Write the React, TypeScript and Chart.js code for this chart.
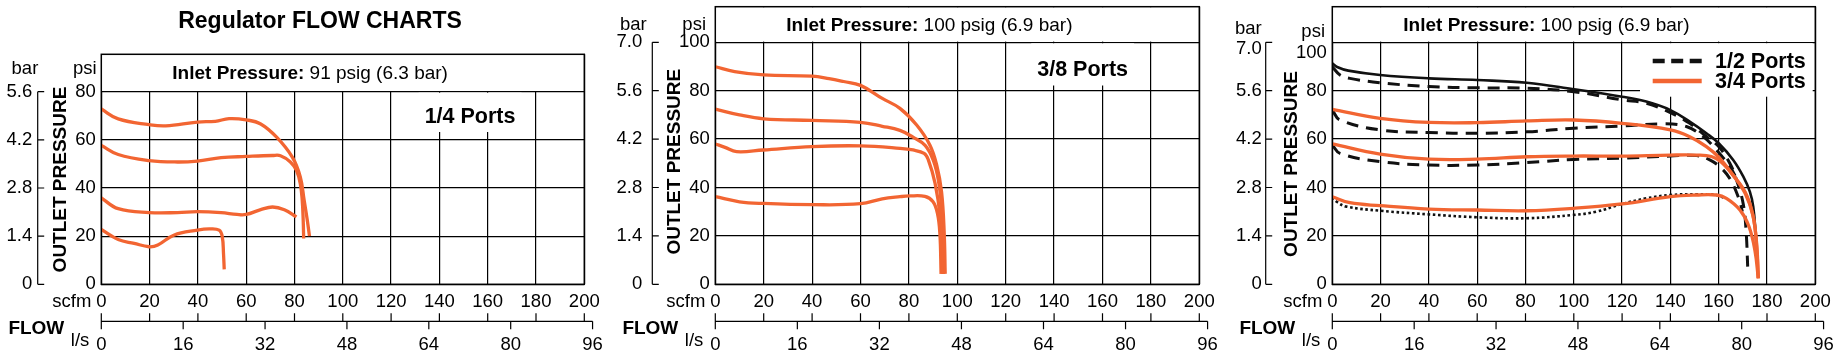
import React, { useEffect, useRef } from "react";
import { Chart, registerables } from "chart.js";

Chart.register(...registerables);

type Pt = [number, number];

// ---------- axis tick values ----------
const SCFM_TICKS = [0, 20, 40, 60, 80, 100, 120, 140, 160, 180, 200];
const LPS_TICKS = [0, 16, 32, 48, 64, 80, 96];
const PSI_TICKS_80 = [0, 20, 40, 60, 80];
const PSI_TICKS_100 = [0, 20, 40, 60, 80, 100];
const BAR_TICKS_56 = ["0", "1.4", "2.8", "4.2", "5.6"];
const BAR_TICKS_70 = ["0", "1.4", "2.8", "4.2", "5.6", "7.0"];
const LPS_TO_SCFM = 2.119;
const PSI_PER_BAR = 20 / 1.4;

// ---------- texts ----------
const TITLE = "Regulator FLOW CHARTS";
const INLET_91 = ["Inlet Pressure:", " 91 psig (6.3 bar)"];
const INLET_100 = ["Inlet Pressure:", " 100 psig (6.9 bar)"];
const PORT_14 = "1/4 Ports";
const PORT_38 = "3/8 Ports";
const LEGEND_LABELS = ["1/2 Ports", "3/4 Ports"];

// ---------- 1/4 ports (scfm, psi) ----------
const q14_a: Pt[] = [[0, 72.8], [7, 68.7], [19.8, 66.3], [26.7, 65.8], [39.8, 67.4], [47.2, 67.7], [52.9, 68.8], [60, 68.3], [66, 66.6], [72.6, 61.1], [79.1, 52.8], [82.4, 44.6], [84, 34.9], [85.3, 26.6], [86.2, 20]];
const q14_b: Pt[] = [[0, 57.7], [7, 53.9], [19.8, 51.4], [31.6, 50.8], [39.8, 51.2], [49.6, 52.6], [60, 53.1], [70.9, 53.5], [74.2, 53.4], [78.3, 50.8], [80.8, 47.3], [82.4, 41.8], [83.2, 34.9], [83.6, 26.6], [83.8, 19]];
const q14_c: Pt[] = [[0, 35.9], [7, 31.4], [19.8, 29.8], [31.6, 29.8], [39.8, 30.2], [49.6, 29.8], [56.2, 29], [60, 29], [66, 31], [70.9, 32.1], [75.8, 31], [80.8, 28]];
const q14_d: Pt[] = [[0, 22.8], [7, 18.6], [13.6, 17], [19.8, 15.6], [23.4, 16.3], [30, 20.4], [39.8, 22.5], [44.7, 23], [48.8, 22.5], [50.1, 19.7], [50.6, 12.8], [50.9, 6.2]];

// ---------- 3/8 ports ----------
const e38_a: Pt[] = [[0, 89.9], [8, 87.9], [20, 86.5], [40, 86], [47, 85], [53, 83.8], [60, 82.2], [69, 76.8], [76.3, 72.7], [83.2, 65.8], [88.7, 57.5], [91.5, 49.2], [93.5, 38.2], [94.6, 21], [95, 4.3]];
const e38_b: Pt[] = [[0, 72.4], [10, 70], [20, 68.4], [40, 67.7], [60, 66.9], [69, 65.3], [76.3, 63.6], [81.7, 60.8], [86.7, 57.4], [90.1, 51.2], [92.2, 42.9], [93.5, 31.9], [94, 18], [94.2, 4.3]];
const e38_c: Pt[] = [[0, 58], [4, 56.6], [8.8, 54.8], [19.8, 55.5], [40, 56.9], [60, 57.2], [76.3, 56.2], [81.7, 55.5], [86.3, 54.1], [88, 51.5], [90.8, 41.8], [92.9, 28], [93.7, 12], [94, 4.3]];
const e38_d: Pt[] = [[0, 36.2], [10, 34.1], [20, 33.4], [40, 32.9], [60, 33.3], [69, 35.3], [76.3, 36.2], [80.2, 36.5], [86.6, 36.3], [89.9, 34.2], [91.8, 29.3], [92.8, 21], [93.3, 4.3]];

// ---------- 1/2 and 3/4 ports ----------
const h34_a: Pt[] = [[0, 72.3], [19.8, 68.6], [40, 66.9], [60, 66.8], [80.5, 67.5], [100, 67.9], [120, 66.5], [140, 63.8], [148, 61], [154.9, 56.9], [160, 52.5], [166, 45], [171, 37.5], [174.3, 28], [175.7, 15.6], [176.4, 2.5]];
const h34_b: Pt[] = [[0, 58], [19.8, 53.8], [40, 51.7], [60, 51.7], [80.5, 52.7], [100, 53], [120, 53], [140, 53.4], [150.8, 53.4], [157, 52.8], [161, 50.5], [166, 45], [171, 38], [174, 29.3], [175.7, 17], [176.4, 2.5]];
const h34_c: Pt[] = [[0, 36.2], [7.3, 33.7], [19.8, 32.5], [40, 31.1], [60, 30.7], [80.5, 30.4], [100, 31.4], [120, 33.2], [140, 36.2], [150.8, 36.9], [159.1, 36.9], [163.2, 35.5], [168.8, 30.7], [172.5, 24], [175, 14], [176.4, 2.5]];
const h12_a: Pt[] = [[0, 89.9], [3.2, 86.5], [7.3, 85.1], [19.8, 83.3], [40, 81.7], [60, 81.2], [80.5, 81], [100, 79.6], [120, 76.2], [130, 74.8], [140, 70.9], [148, 66.5], [154.9, 61], [160, 56.9], [164.6, 50], [167.4, 43.1], [170.2, 33], [171.4, 21], [172, 7.3]];
const h12_b: Pt[] = [[0, 72], [3.2, 67.9], [19.8, 63.8], [40, 62.7], [60, 62.4], [80.5, 63], [100, 64.5], [120, 65.4], [137, 66.3], [146.6, 65.2], [153.6, 61], [159.1, 55.5], [164.6, 48.6], [168.1, 42.4]];
const h12_c: Pt[] = [[0, 57.6], [3.2, 54.1], [19.8, 50.7], [40, 49.3], [60, 49.3], [80.5, 50.3], [100, 51.6], [120, 52.1], [140, 53], [150.8, 53.2], [156.3, 51.4], [161.2, 47.9], [165, 43], [168.5, 35], [169.8, 30]];
const top_solid: Pt[] = [[0, 91.3], [2, 89.8], [6.6, 88.3], [19.8, 86.5], [40, 85.1], [60, 84.4], [80.5, 83.3], [100, 80.6], [120, 77.5], [130, 75.5], [140, 72], [148, 67.2], [154.9, 62.4], [160, 58.3], [166, 51.4], [170.2, 44.5], [172.9, 38.3], [174.3, 32.1], [175.3, 21], [175.7, 14]];
const low_dotted: Pt[] = [[0, 36], [2, 34], [5.9, 32.1], [19.8, 30.4], [40, 28.9], [60, 27.7], [80.5, 27.3], [100, 28.7], [109.3, 30], [120, 33.2], [130, 35.5], [140, 36.9], [150.8, 37.2], [159.1, 36.9], [162.5, 35.6]];

// ---------- styling ----------
const FONT = "'Liberation Sans', Arial, Helvetica, sans-serif";
const ORANGE = "#F26532";
const BLACK = "#111111";
const CANVAS_H = 363;
const PLOT_BOTTOM = 284.3;
const Y_AXIS_W = 48;
const X_AXIS_H = 32;
const CURVE_W = 3.3;
const DASH = [12, 8];
const DOT = [2.6, 2.6];

interface Series { data: Pt[]; color: string; width: number; dash?: number[] }
interface LegendItem { label: string; color: string; dash: number[] }
interface PanelCfg {
  left: number; width: number;
  plotLeft: number; plotRight: number; plotTop: number;
  yMax: number; psiTicks: number[]; barTicks: string[];
  barDx: number; barGap: number; shiftTop: boolean;
  barUnitDx: number; barUnitY: number; psiUnitDx: number; psiUnitY: number;
  outletY: number;
  inlet: string[];
  port?: { text: string; scfm: number; dy: number };
  legend?: LegendItem[];
  title?: boolean;
  series: Series[];
}

const PANELS: PanelCfg[] = [
  {
    left: 0, width: 612, plotLeft: 101.3, plotRight: 584.3, plotTop: 54.3,
    yMax: 95.53, psiTicks: PSI_TICKS_80, barTicks: BAR_TICKS_56,
    barDx: 63.6, barGap: 5.4, shiftTop: false,
    barUnitDx: 63, barUnitY: 69.3, psiUnitDx: 4.6, psiUnitY: 69.3,
    outletY: 179.5, inlet: INLET_91,
    port: { text: PORT_14, scfm: 152.7, dy: 24.3 },
    title: true,
    series: [
      { data: q14_a, color: ORANGE, width: CURVE_W },
      { data: q14_b, color: ORANGE, width: CURVE_W },
      { data: q14_c, color: ORANGE, width: CURVE_W },
      { data: q14_d, color: ORANGE, width: CURVE_W },
    ],
  },
  {
    left: 600, width: 625, plotLeft: 115.3, plotRight: 599.3, plotTop: 6.7,
    yMax: 114.71, psiTicks: PSI_TICKS_100, barTicks: BAR_TICKS_70,
    barDx: 63, barGap: 10, shiftTop: false,
    barUnitDx: 68.6, barUnitY: 25, psiUnitDx: 9.3, psiUnitY: 25,
    outletY: 161.7, inlet: INLET_100,
    port: { text: PORT_38, scfm: 151.8, dy: 27.2 },
    series: [
      { data: e38_a, color: ORANGE, width: CURVE_W },
      { data: e38_b, color: ORANGE, width: CURVE_W },
      { data: e38_c, color: ORANGE, width: CURVE_W },
      { data: e38_d, color: ORANGE, width: CURVE_W },
    ],
  },
  {
    left: 1215, width: 620, plotLeft: 117.3, plotRight: 600.3, plotTop: 6.7,
    yMax: 114.71, psiTicks: PSI_TICKS_100, barTicks: BAR_TICKS_70,
    barDx: 66.6, barGap: 4, shiftTop: true,
    barUnitDx: 70.6, barUnitY: 29.3, psiUnitDx: 7.3, psiUnitY: 31.7,
    outletY: 164, inlet: INLET_100,
    legend: [
      { label: LEGEND_LABELS[0], color: BLACK, dash: [12, 6.5] },
      { label: LEGEND_LABELS[1], color: ORANGE, dash: [] },
    ],
    series: [
      { data: h34_a, color: ORANGE, width: CURVE_W },
      { data: h34_b, color: ORANGE, width: CURVE_W },
      { data: h34_c, color: ORANGE, width: CURVE_W },
      { data: top_solid, color: BLACK, width: 2.6 },
      { data: h12_a, color: BLACK, width: 3, dash: DASH },
      { data: h12_b, color: BLACK, width: 3, dash: DASH },
      { data: h12_c, color: BLACK, width: 3, dash: DASH },
      { data: low_dotted, color: BLACK, width: 2.6, dash: DOT },
    ],
  },
];

function decor(cfg: PanelCfg) {
  return {
    id: "decor",
    beforeDatasetsDraw(chart: any) {
      const { ctx, chartArea: a } = chart;
      const xs = chart.scales.x;
      const ys = chart.scales.y;
      const yTop = ys.getPixelForValue(cfg.psiTicks[cfg.psiTicks.length - 1]);
      ctx.save();
      // clear the header box (no vertical grid inside it)
      ctx.fillStyle = "#fff";
      ctx.fillRect(a.left + 0.5, a.top + 0.5, a.right - a.left - 1, yTop - a.top - 1.2);
      // inlet pressure text
      ctx.fillStyle = "#000";
      ctx.textBaseline = "middle";
      ctx.textAlign = "left";
      const iy = (a.top + yTop) / 2 + 1;
      ctx.font = `bold 19px ${FONT}`;
      ctx.fillText(cfg.inlet[0], a.left + 71, iy);
      const bw = ctx.measureText(cfg.inlet[0]).width;
      ctx.font = `19px ${FONT}`;
      ctx.fillText(cfg.inlet[1], a.left + 71 + bw, iy);
      if (cfg.port) {
        ctx.font = `bold 21.5px ${FONT}`;
        const w = ctx.measureText(cfg.port.text).width;
        const cx = xs.getPixelForValue(cfg.port.scfm);
        const cy = yTop + cfg.port.dy;
        ctx.fillStyle = "#fff";
        ctx.fillRect(cx - w / 2 - 6, yTop + 1, w + 12, cy + 16 - yTop - 1);
        ctx.fillStyle = "#000";
        ctx.textAlign = "center";
        ctx.fillText(cfg.port.text, cx, cy + 1);
      }
      if (cfg.legend) {
        const bx0 = a.left + 307.7;
        const bx1 = a.right - 2.6;
        ctx.fillStyle = "#fff";
        ctx.fillRect(bx0, yTop + 0.9, bx1 - bx0, 54.4 - 0.9);
        cfg.legend.forEach((item, i) => {
          const ly = yTop + 18.7 + i * 20;
          ctx.beginPath();
          ctx.strokeStyle = item.color;
          ctx.lineWidth = 4.5;
          ctx.setLineDash(item.dash);
          ctx.moveTo(a.left + 320.4, ly);
          ctx.lineTo(a.left + 369.4, ly);
          ctx.stroke();
          ctx.setLineDash([]);
          ctx.fillStyle = "#000";
          ctx.font = `bold 21.5px ${FONT}`;
          ctx.textAlign = "left";
          ctx.fillText(item.label, a.left + 382.7, ly + 1);
        });
      }
      ctx.restore();
    },
    afterDraw(chart: any) {
      const { ctx, chartArea: a } = chart;
      const xs = chart.scales.x;
      const ys = chart.scales.y;
      ctx.save();
      ctx.strokeStyle = "#000";
      ctx.fillStyle = "#000";
      // plot frame
      ctx.lineWidth = 1.5;
      ctx.strokeRect(a.left, a.top, a.right - a.left, a.bottom - a.top);

      // bar axis
      ctx.lineWidth = 1.2;
      const bx = a.left - cfg.barDx;
      const barVals = cfg.barTicks.map((t) => parseFloat(t));
      const bTop = ys.getPixelForValue(barVals[barVals.length - 1] * PSI_PER_BAR);
      const bBot = ys.getPixelForValue(0);
      ctx.beginPath();
      ctx.moveTo(bx, bTop);
      ctx.lineTo(bx, bBot);
      barVals.forEach((b) => {
        const y = ys.getPixelForValue(b * PSI_PER_BAR);
        ctx.moveTo(bx, y);
        ctx.lineTo(bx + 6.5, y);
      });
      ctx.stroke();
      ctx.font = `18.5px ${FONT}`;
      ctx.textAlign = "right";
      ctx.textBaseline = "middle";
      cfg.barTicks.forEach((t, i) => {
        const dy = cfg.shiftTop && i === cfg.barTicks.length - 1 ? 7 : 0;
        ctx.fillText(t, bx - cfg.barGap, ys.getPixelForValue(barVals[i] * PSI_PER_BAR) + dy);
      });

      // unit labels
      ctx.fillText("bar", a.left - cfg.barUnitDx, cfg.barUnitY);
      ctx.fillText("psi", a.left - cfg.psiUnitDx, cfg.psiUnitY);

      // l/s axis
      const ly = a.bottom + 37;
      ctx.beginPath();
      ctx.moveTo(xs.getPixelForValue(0), ly);
      ctx.lineTo(xs.getPixelForValue(LPS_TICKS[LPS_TICKS.length - 1] * LPS_TO_SCFM), ly);
      SCFM_TICKS.forEach((v) => {
        const x = xs.getPixelForValue(v);
        ctx.moveTo(x, ly - 8);
        ctx.lineTo(x, ly);
      });
      LPS_TICKS.forEach((v) => {
        const x = xs.getPixelForValue(v * LPS_TO_SCFM);
        ctx.moveTo(x, ly);
        ctx.lineTo(x, ly + 8);
      });
      ctx.stroke();
      ctx.textAlign = "center";
      LPS_TICKS.forEach((v) => {
        ctx.fillText(String(v), xs.getPixelForValue(v * LPS_TO_SCFM), ly + 23.5);
      });

      // axis captions
      ctx.textAlign = "right";
      ctx.fillText("scfm", a.left - 10, a.bottom + 18);
      ctx.fillText("l/s", a.left - 12, a.bottom + 57);
      ctx.font = `bold 19px ${FONT}`;
      ctx.fillText("FLOW", a.left - 37, a.bottom + 44);

      // OUTLET PRESSURE
      ctx.save();
      ctx.translate(a.left - 41.7, cfg.outletY);
      ctx.rotate(-Math.PI / 2);
      ctx.textAlign = "center";
      ctx.font = `bold 19px ${FONT}`;
      ctx.fillText("OUTLET PRESSURE", 0, 1);
      ctx.restore();

      if (cfg.title) {
        ctx.textAlign = "center";
        ctx.font = `bold 23px ${FONT}`;
        ctx.fillText(TITLE, 320, 22);
      }
      ctx.restore();
    },
  };
}

function Panel({ cfg }: { cfg: PanelCfg }) {
  const ref = useRef<HTMLCanvasElement>(null);
  useEffect(() => {
    if (!ref.current) return;
    const chart = new Chart(ref.current, {
      type: "line",
      data: {
        datasets: cfg.series.map((s) => ({
          data: s.data.map(([x, y]) => ({ x, y })),
          borderColor: s.color,
          backgroundColor: s.color,
          borderWidth: s.width,
          borderDash: s.dash || [],
          pointRadius: 0,
          pointHoverRadius: 0,
          tension: 0.4,
          fill: false,
          borderCapStyle: "butt",
          borderJoinStyle: "round",
        })),
      },
      options: {
        responsive: false,
        animation: false,
        devicePixelRatio: 1,
        events: [],
        layout: {
          padding: {
            left: cfg.plotLeft - Y_AXIS_W,
            right: cfg.width - cfg.plotRight,
            top: cfg.plotTop,
            bottom: CANVAS_H - PLOT_BOTTOM - X_AXIS_H,
          },
        },
        plugins: {
          legend: { display: false },
          title: { display: false },
          tooltip: { enabled: false },
        },
        scales: {
          x: {
            type: "linear",
            position: "bottom",
            min: 0,
            max: 200,
            afterBuildTicks: (s: any) => {
              s.ticks = SCFM_TICKS.map((v) => ({ value: v }));
            },
            afterFit: (s: any) => {
              s.height = X_AXIS_H;
              s.paddingLeft = 0;
              s.paddingRight = 0;
            },
            grid: { color: "#000", lineWidth: 1.2, drawTicks: false },
            border: { display: false },
            ticks: {
              font: { family: FONT, size: 18.5 },
              color: "#000",
              padding: 6.6,
              maxRotation: 0,
              autoSkip: false,
              callback: (v: any) => String(v),
            },
          },
          y: {
            type: "linear",
            position: "left",
            min: 0,
            max: cfg.yMax,
            afterBuildTicks: (s: any) => {
              s.ticks = cfg.psiTicks.map((v) => ({ value: v }));
            },
            afterFit: (s: any) => {
              s.width = Y_AXIS_W;
              s.paddingTop = 0;
              s.paddingBottom = 0;
            },
            grid: { color: "#000", lineWidth: 1.2, drawTicks: false },
            border: { display: false },
            ticks: {
              font: { family: FONT, size: 18.5 },
              color: "#000",
              padding: 5.5,
              autoSkip: false,
              callback: (v: any, i: number, ticks: any[]) =>
                cfg.shiftTop && i === ticks.length - 1 ? ["", String(v)] : String(v),
            },
          },
        },
      } as any,
      plugins: [decor(cfg)],
    });
    return () => chart.destroy();
  }, [cfg]);
  return (
    <canvas
      ref={ref}
      width={cfg.width}
      height={CANVAS_H}
      style={{ position: "absolute", left: cfg.left, top: 0, width: cfg.width, height: CANVAS_H }}
    />
  );
}

export default function App() {
  return (
    <div style={{ position: "absolute", left: 0, top: 0, width: 1835, height: CANVAS_H, background: "#fff", overflow: "hidden" }}>
      {PANELS.map((p, i) => (
        <Panel key={i} cfg={p} />
      ))}
    </div>
  );
}
